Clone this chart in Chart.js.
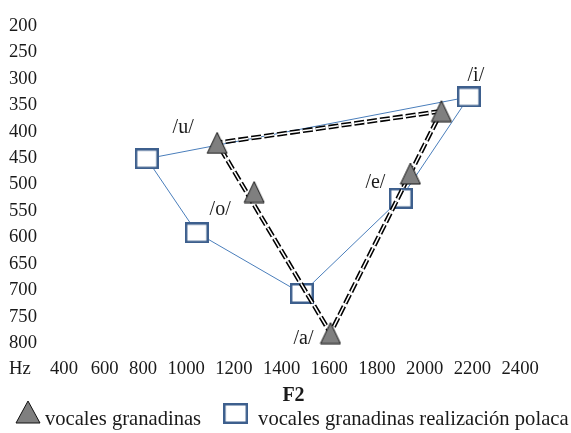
<!DOCTYPE html>
<html>
<head>
<meta charset="utf-8">
<title>Vocales granadinas – F1/F2</title>
<script src="https://cdn.jsdelivr.net/npm/chart.js@4.4.1/dist/chart.umd.min.js"></script>
<style>
  html, body { margin: 0; padding: 0; background: #ffffff; }
  canvas { display: block; }
</style>
</head>
<body>
<canvas id="chart" width="571" height="433"></canvas>
<script>
// Vowels and their formant values (Hz)
const vowels = ['/i/', '/e/', '/a/', '/o/', '/u/'];
const granadaF2 = [2070, 1940, 1605, 1285, 1130];
const granadaF1 = [365, 483, 785, 518, 425];
const polacaF2 = [2185, 1900, 1485, 1045, 835];
const polacaF1 = [338, 530, 710, 595, 455];

// Order in which the vowel points are joined
const granadaOutline = ['/i/', '/u/', '/a/', '/i/'];
const polacaOutline = ['/i/', '/e/', '/a/', '/o/', '/u/', '/i/'];

const seriesNames = ['vocales granadinas', 'vocales granadinas realización polaca'];
const xAxisTitle = 'F2';
const yUnitLabel = 'Hz';

const xTicks = [400, 600, 800, 1000, 1200, 1400, 1600, 1800, 2000, 2200, 2400];
const yTicks = [200, 250, 300, 350, 400, 450, 500, 550, 600, 650, 700, 750, 800, 850];

// ---- helpers -------------------------------------------------------------
function pointsFor(order, f2, f1) {
  return order.map(v => {
    const i = vowels.indexOf(v);
    return { x: f2[i], y: f1[i] };
  });
}
function allPoints(f2, f1) {
  return vowels.map((v, i) => ({ x: f2[i], y: f1[i] }));
}

const SERIF = "'Times New Roman', 'Liberation Serif', 'DejaVu Serif', serif";
const TICK_FONT = { family: SERIF, size: 18.67 };
const LABEL_FONT = '20px ' + SERIF;
const LEGEND_FONT = '20.6px ' + SERIF;

function triangleMarker(w, h) {
  const c = document.createElement('canvas');
  c.width = w + 2;
  c.height = h + 2;
  const g = c.getContext('2d');
  g.beginPath();
  g.moveTo(1, h + 1);
  g.lineTo(w / 2 + 1, 1);
  g.lineTo(w + 1, h + 1);
  g.closePath();
  g.fillStyle = '#7f7f7f';
  g.fill();
  g.lineWidth = 1;
  g.strokeStyle = '#111111';
  g.stroke();
  return c;
}
function squareMarker(w, h) {
  const c = document.createElement('canvas');
  c.width = w;
  c.height = h;
  const g = c.getContext('2d');
  g.fillStyle = '#ffffff';
  g.fillRect(0, 0, w, h);
  g.lineWidth = 2.5;
  g.strokeStyle = '#3d5f8d';
  g.strokeRect(1.25, 1.25, w - 2.5, h - 2.5);
  return c;
}

const triImg = triangleMarker(20, 21);
const sqImg = squareMarker(24, 21);
const triLegendImg = triangleMarker(24, 22);
const sqLegendImg = squareMarker(25, 21);

// Short x labels get leading spaces so they keep an even gap after the Hz label
const tickLead = { 400: 9, 600: 6, 800: 2 };

// Vowel names written beside the points (pixel offsets from the anchor point)
const vowelLabelPlacement = [
  { vowel: '/u/', series: 'granada', dx: -34, dy: -15 },
  { vowel: '/o/', series: 'granada', dx: -34, dy: 18 },
  { vowel: '/a/', series: 'granada', dx: -27, dy: 6 },
  { vowel: '/e/', series: 'granada', dx: -35, dy: 9 },
  { vowel: '/i/', series: 'polaca', dx: 7, dy: -21 }
];

const vowelLabels = {
  id: 'vowelLabels',
  afterDatasetsDraw(chart) {
    const { ctx, scales } = chart;
    ctx.save();
    ctx.font = LABEL_FONT;
    ctx.fillStyle = '#1a1a1a';
    ctx.textAlign = 'center';
    ctx.textBaseline = 'middle';
    vowelLabelPlacement.forEach(p => {
      const i = vowels.indexOf(p.vowel);
      const f2 = p.series === 'granada' ? granadaF2[i] : polacaF2[i];
      const f1 = p.series === 'granada' ? granadaF1[i] : polacaF1[i];
      const x = scales.x.getPixelForValue(f2);
      const y = scales.y.getPixelForValue(f1);
      ctx.fillText(p.vowel, x + p.dx, y + p.dy);
    });
    ctx.restore();
  }
};

// Legend row under the axis title
const legendRow = {
  id: 'legendRow',
  afterDraw(chart) {
    const { ctx } = chart;
    ctx.save();
    ctx.font = LEGEND_FONT;
    ctx.fillStyle = '#1a1a1a';
    ctx.textBaseline = 'middle';
    ctx.textAlign = 'left';
    const textY = 420;
    let x = 16;
    ctx.drawImage(triLegendImg, x - 1, 400);
    x += 29;
    ctx.fillText(seriesNames[0], x, textY);
    x += ctx.measureText(seriesNames[0]).width + 22;
    ctx.drawImage(sqLegendImg, x, 403);
    x += 35;
    ctx.fillText(seriesNames[1], x, textY);
    ctx.restore();
  }
};

new Chart(document.getElementById('chart'), {
  type: 'scatter',
  data: {
    datasets: [
      {
        label: seriesNames[1] + ' (contorno)',
        data: pointsFor(polacaOutline, polacaF2, polacaF1),
        showLine: true,
        borderColor: '#4a7ebb',
        borderWidth: 1,
        pointRadius: 0,
        order: 6
      },
      {
        label: seriesNames[1],
        data: allPoints(polacaF2, polacaF1),
        pointStyle: sqImg,
        showLine: false,
        order: 5
      },
      {
        label: seriesNames[0] + ' (contorno)',
        data: pointsFor(granadaOutline, granadaF2, granadaF1),
        showLine: true,
        borderColor: '#000000',
        borderWidth: 4.6,
        borderDash: [10, 3],
        pointRadius: 0,
        order: 4
      },
      {
        label: seriesNames[0] + ' (contorno interior)',
        data: pointsFor(granadaOutline, granadaF2, granadaF1),
        showLine: true,
        borderColor: '#ffffff',
        borderWidth: 1.5,
        borderDash: [10, 3],
        pointRadius: 0,
        order: 3
      },
      {
        label: seriesNames[0],
        data: allPoints(granadaF2, granadaF1),
        pointStyle: triImg,
        showLine: false,
        order: 1
      }
    ]
  },
  options: {
    responsive: false,
    animation: false,
    devicePixelRatio: 1,
    layout: { padding: { left: 9, right: 27, top: 24, bottom: 24.7 } },
    plugins: {
      legend: { display: false },
      tooltip: { enabled: false }
    },
    scales: {
      x: {
        type: 'linear',
        min: 400,
        max: 2500,
        afterBuildTicks: axis => { axis.ticks = xTicks.map(v => ({ value: v })); },
        grid: { display: false, drawTicks: false },
        border: { display: false },
        ticks: {
          autoSkip: false,
          maxRotation: 0,
          padding: 1,
          color: '#1a1a1a',
          font: TICK_FONT,
          callback: v => ' '.repeat(tickLead[v] || 0) + v
        },
        title: {
          display: true,
          text: xAxisTitle,
          color: '#1a1a1a',
          font: { family: SERIF, size: 20, weight: 'bold' },
          padding: { top: 3, bottom: 0 }
        }
      },
      y: {
        type: 'linear',
        reverse: true,
        min: 200,
        max: 830,
        // the unit label sits on the row of the F2 tick labels
        afterBuildTicks: axis => { axis.ticks = yTicks.map(v => ({ value: v })); },
        grid: { display: false, drawTicks: false },
        border: { display: false },
        ticks: {
          crossAlign: 'far',
          padding: 3,
          labelOffset: 2,
          color: '#1a1a1a',
          font: TICK_FONT,
          callback: v => (v === 850 ? yUnitLabel : v)
        }
      }
    }
  },
  plugins: [vowelLabels, legendRow]
});
</script>
</body>
</html>
